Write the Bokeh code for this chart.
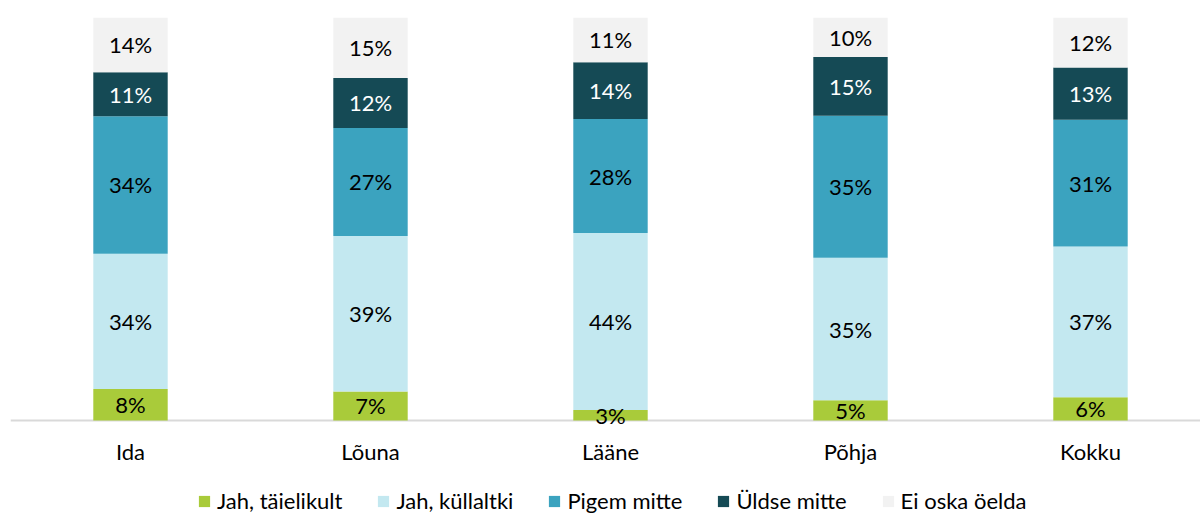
import numpy as np
from bokeh.plotting import figure
from bokeh.models import ColumnDataSource, Range1d, Legend, LegendItem, Span
from bokeh.core.properties import value
from bokeh.embed import file_html
from bokeh.resources import INLINE

categories = ["Ida", "Lõuna", "Lääne", "Põhja", "Kokku"]
series_names = ["Jah, täielikult", "Jah, küllaltki", "Pigem mitte", "Üldse mitte", "Ei oska öelda"]
jah_taielikult = [7.8, 7.2, 2.6, 5.0, 5.8]
jah_kullaltki = [33.6, 38.6, 43.9, 35.4, 37.4]
pigem_mitte = [34.1, 26.8, 28.3, 35.2, 31.4]
uldse_mitte = [10.9, 12.4, 14.1, 14.6, 13.0]
ei_oska = [13.6, 15.0, 11.1, 9.8, 12.4]
series = [jah_taielikult, jah_kullaltki, pigem_mitte, uldse_mitte, ei_oska]
colors = ["#A9CB3A", "#C3E8F0", "#3BA3BF", "#154A55", "#F2F2F2"]
text_colors = ["#000000", "#000000", "#000000", "#FFFFFF", "#000000"]

FONT = "Lato"
PX_PER_UNIT = 4.03  # pixels per percentage point

p = figure(frame_width=1190, frame_height=497, output_backend="svg", toolbar_location=None,
           x_range=Range1d(-0.5, 1190 / 240 - 0.5),
           y_range=Range1d(-94 / PX_PER_UNIT, 100),
           min_border_left=10, min_border_right=0, min_border_top=17, min_border_bottom=0)
p.outline_line_color = None
p.xgrid.grid_line_color = None
p.ygrid.grid_line_color = None
p.xaxis.visible = False
p.yaxis.visible = False

p.add_layout(Span(location=0, dimension="width", line_color="#D9D9D9", line_width=2,
                  level="underlay"))

x = np.arange(len(categories))
bottom = np.zeros(len(categories))
items = []
for name, vals, col, tcol in zip(series_names, series, colors, text_colors):
    vals = np.array(vals, dtype=float)
    top = bottom + vals
    src = ColumnDataSource(dict(x=x, bottom=bottom, top=top,
                                mid=(bottom + top) / 2,
                                label=[f"{int(v + 0.5)}%" for v in vals]))
    r = p.vbar(x="x", bottom="bottom", top="top", width=0.31, source=src,
               fill_color=col, line_color=None)
    items.append(LegendItem(label=name, renderers=[r]))
    p.text(x="x", y="mid", text="label", source=src, text_align="center",
           text_baseline="middle", text_font=value(FONT), text_font_size="22px",
           text_color=tcol, level="overlay")
    bottom = top

# category labels under the baseline
cat_src = ColumnDataSource(dict(x=x, y=np.full(len(categories), -31 / PX_PER_UNIT),
                                name=categories))
p.text(x="x", y="y", text="name", source=cat_src, text_align="center",
       text_baseline="middle", text_font=value(FONT), text_font_size="22px",
       text_color="#000000")

legend = Legend(items=items, orientation="horizontal", location=(187, 0),
                label_text_font=FONT, label_text_font_size="22px",
                label_text_color="#000000", glyph_width=14, glyph_height=14,
                label_standoff=6, spacing=34, padding=0, margin=0,
                border_line_color=None, background_fill_alpha=0)
p.add_layout(legend, "center")

open("out.html", "w").write(file_html(p, INLINE))
